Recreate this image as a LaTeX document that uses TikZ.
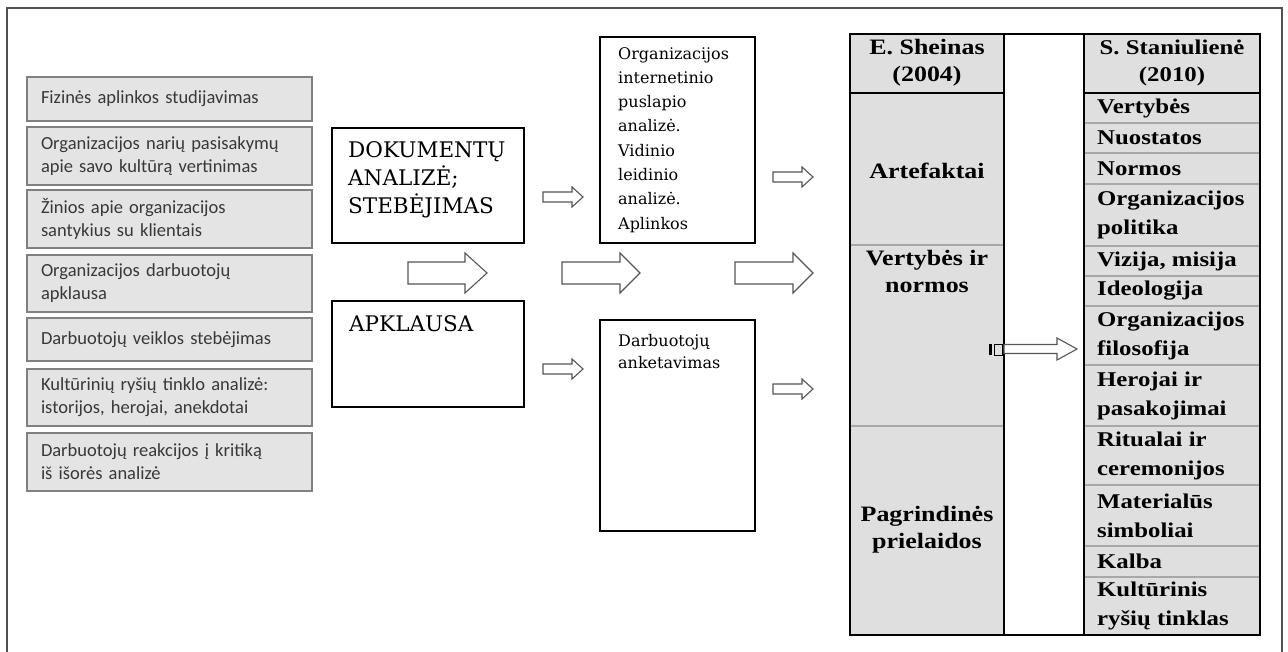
\documentclass[tikz,border=0pt]{standalone}
\usepackage{fontspec}
\setmainfont{DejaVu Serif}
\newfontfamily\calib{Carlito}
\newfontfamily\tabfont{Liberation Serif}[FakeStretch=1.18]
\definecolor{framec}{HTML}{505050}
\definecolor{lboxfill}{HTML}{E4E4E4}
\definecolor{lboxdraw}{HTML}{808080}
\definecolor{ltext}{HTML}{383838}
\definecolor{tabfill}{HTML}{DFDFDF}
\definecolor{sepc}{HTML}{A8A8A8}
\definecolor{arrowc}{HTML}{555555}
\newcommand{\blockarr}[7]{% name, x1, x2, y, shaft, head, headlen
  \draw[barrow] (#2,#4-#5/2) -- (#3-#7,#4-#5/2) -- (#3-#7,#4-#6/2) -- (#3,#4)
     -- (#3-#7,#4+#6/2) -- (#3-#7,#4+#5/2) -- (#2,#4+#5/2) -- cycle;
  \coordinate (#1) at ({(#2+#3)/2},#4);}
\tikzset{
  lbox/.style={draw=lboxdraw, line width=2pt, fill=lboxfill, minimum width=285pt,
    text width=257pt, inner xsep=14pt, inner ysep=0pt, align=left, text=ltext,
    font=\calib\fontsize{18.5}{23}\selectfont},
  mbox/.style={draw=black, line width=1.2pt, fill=white, inner sep=0pt},
  mtxt/.style={anchor=north west, inner sep=0pt, align=left},
  barrow/.style={draw=arrowc, line width=1.1pt, fill=white, line join=miter},
  shtxt/.style={inner sep=0pt, align=center, font=\tabfont\bfseries\fontsize{22}{27}\selectfont},
  sttxt/.style={anchor=west, inner sep=0pt, align=left, font=\tabfont\bfseries\fontsize{21}{29}\selectfont},
  sep/.style={draw=sepc, line width=1.2pt},
}
\begin{document}
\begin{tikzpicture}[x=1pt,y=-1pt]
\useasboundingbox (0,0) rectangle (1288,652);
\fill[white] (0,0) rectangle (1288,652);
% outer frame
\draw[framec, line width=2pt] (6.5,652) -- (6.5,8.5) -- (1282,8.5) -- (1282,652);

% left boxes
\node[lbox, minimum height=44pt] (l1) at (169.5,99) {Fizinės aplinkos studijavimas};
\node[lbox, minimum height=58pt] (l2) at (169.5,156) {Organizacijos narių pasisakymų\\apie savo kultūrą vertinimas};
\node[lbox, minimum height=58pt] (l3) at (169.5,219) {Žinios apie organizacijos\\santykius su klientais};
\node[lbox, minimum height=57pt] (l4) at (169.5,283.5) {Organizacijos darbuotojų\\apklausa};
\node[lbox, minimum height=43pt] (l5) at (169.5,339.5) {Darbuotojų veiklos stebėjimas};
\node[lbox, minimum height=57pt] (l6) at (169.5,397.5) {Kultūrinių ryšių tinklo analizė:\\istorijos, herojai, anekdotai};
\node[lbox, minimum height=58pt] (l7) at (169.5,462) {Darbuotojų reakcijos į kritiką\\iš išorės analizė};

% middle boxes
\node[mbox, minimum width=192pt, minimum height=115pt] (dok) at (428,185.5) {};
\node[mtxt, font=\fontsize{21.5}{28}\selectfont] (doktxt) at (348,141) {DOKUMENTŲ\\ANALIZĖ;\\STEBĖJIMAS};
\node[mbox, minimum width=192pt, minimum height=106pt] (apk) at (428,354) {};
\node[mtxt, font=\fontsize{21.5}{28}\selectfont] (apktxt) at (349,315) {APKLAUSA};
\node[mbox, minimum width=155pt, minimum height=206pt] (org) at (677.5,140) {};
\node[mtxt, font=\fontsize{16}{24.3}\selectfont] (orgtxt) at (618,47) {Organizacijos\\internetinio\\puslapio\\analizė.\\Vidinio\\leidinio\\analizė.\\Aplinkos};
\node[mbox, minimum width=155pt, minimum height=211pt] (dar) at (677.5,425.5) {};
\node[mtxt, font=\fontsize{16}{22}\selectfont] (dartxt) at (618,334) {Darbuotojų\\anketavimas};

% block arrows
\blockarr{a1}{543}{583}{197}{10}{20}{11}
\blockarr{a2}{543}{583}{369}{10}{20}{11}
\blockarr{a3}{773}{813}{177}{10}{20}{11}
\blockarr{a4}{773}{813}{389}{10}{20}{11}
\blockarr{b1}{408}{487}{273}{22}{40}{22}
\blockarr{b2}{562}{640}{273}{22}{40}{20}
\blockarr{b3}{735}{813}{273}{22}{40}{20}

% table
\fill[tabfill] (850,34) rectangle (1004,635);
\fill[tabfill] (1084,34) rectangle (1260,635);
\draw[sep] (850,245) -- (1004,245);
\draw[sep] (850,426) -- (1004,426);
\foreach \yy in {123,153,184,246,276,306,365,426,485,546,577}
  \draw[sep] (1084,\yy) -- (1260,\yy);
\draw[black, line width=1.3pt] (850,93) -- (1004,93) (1084,93) -- (1260,93);
\draw[black, line width=1.5pt] (850,34) rectangle (1260,635);
\draw[black, line width=1.3pt] (1004,34) -- (1004,635) (1084,34) -- (1084,635);

\node[shtxt] (shh) at (927,63) {E. Sheinas\\(2004)};
\node[shtxt] (sh1) at (927,171) {Artefaktai};
\node[shtxt, anchor=north] (sh2) at (927,250) {Vertybės ir\\normos};
\node[shtxt] (sh3) at (927,530) {Pagrindinės\\prielaidos};

\node[shtxt, font=\tabfont\bfseries\fontsize{21}{27}\selectfont] (sth) at (1172,63) {S. Staniulienė\\(2010)};
\node[sttxt] (st1) at (1097,108) {Vertybės};
\node[sttxt] (st2) at (1097,138) {Nuostatos};
\node[sttxt] (st3) at (1097,168.5) {Normos};
\node[sttxt] (st4) at (1097,215) {Organizacijos\\politika};
\node[sttxt] (st5) at (1097,261) {Vizija, misija};
\node[sttxt] (st6) at (1097,291) {Ideologija};
\node[sttxt] (st7) at (1097,335.5) {Organizacijos\\filosofija};
\node[sttxt] (st8) at (1097,395.5) {Herojai ir\\pasakojimai};
\node[sttxt] (st9) at (1097,455.5) {Ritualai ir\\ceremonijos};
\node[sttxt] (st10) at (1097,515.5) {Materialūs\\simboliai};
\node[sttxt] (st11) at (1097,561.5) {Kalba};
\node[sttxt] (st12) at (1097,606) {Kultūrinis\\ryšių tinklas};

% arrow between columns and small mark
\blockarr{b4}{1004}{1077}{349}{9}{22}{20}
\fill[black] (989,344) rectangle (991.5,355);
\draw[black, line width=0.9pt] (994,344.5) rectangle (1002,355);
\end{tikzpicture}
\end{document}
